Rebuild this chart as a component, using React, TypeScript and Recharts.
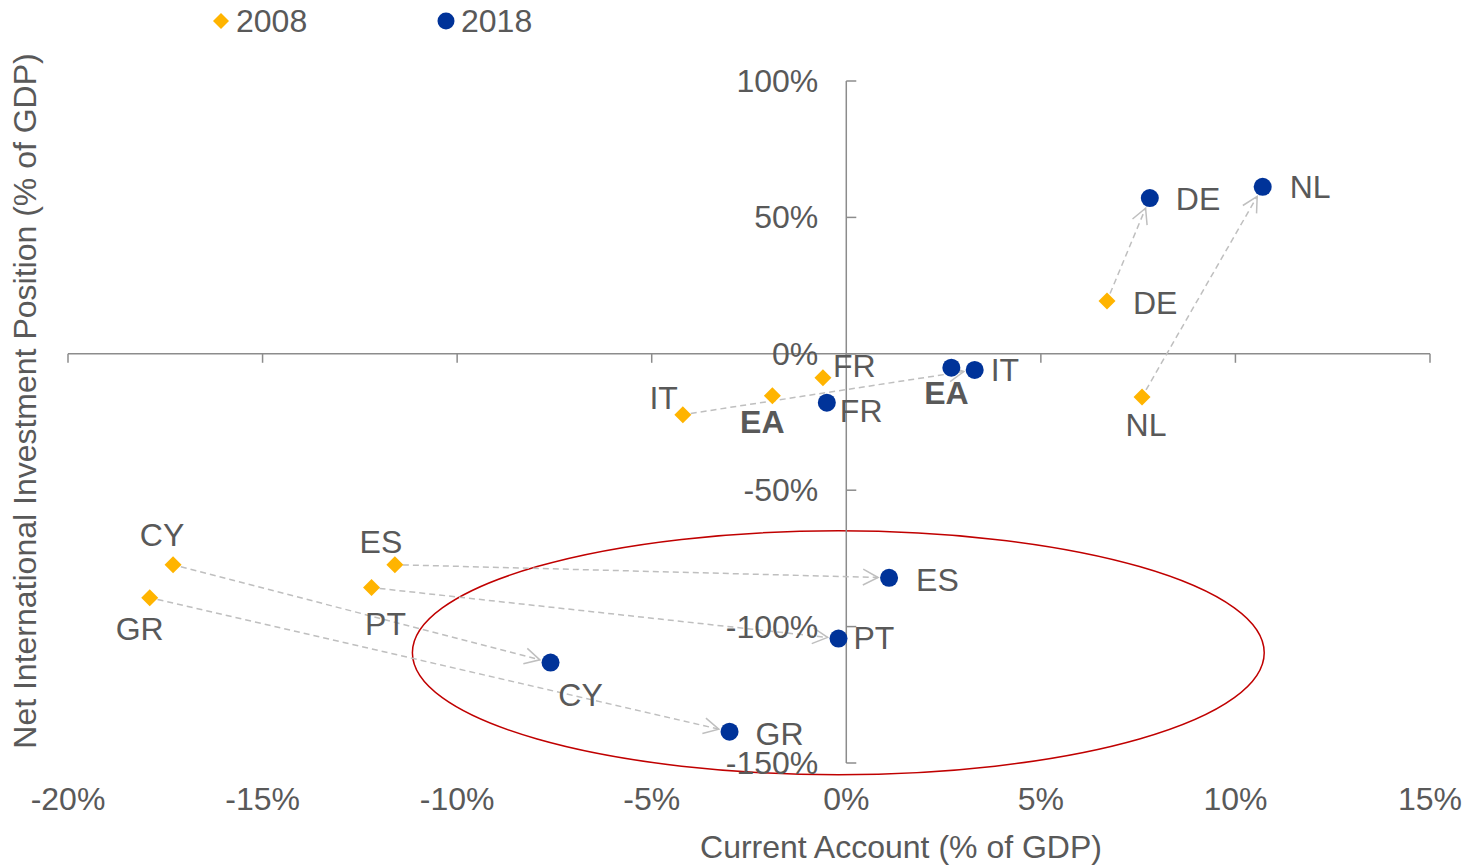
import React from 'react';
import {
  ScatterChart,
  Scatter,
  XAxis,
  YAxis,
  ReferenceLine,
  ReferenceDot,
  ReferenceArea,
  Legend,
} from 'recharts';

// values
const countries = ['DE', 'NL', 'FR', 'EA', 'IT', 'ES', 'PT', 'CY', 'GR'];
const currentAccount2008 = [6.7, 7.6, -0.6, -1.9, -4.2, -11.6, -12.2, -17.3, -17.9];
const niip2008 = [19.4, -15.8, -8.8, -15.4, -22.3, -77.3, -85.7, -77.3, -89.4];
const currentAccount2018 = [7.8, 10.7, -0.5, 2.7, 3.3, 1.1, -0.2, -7.6, -3.0];
const niip2018 = [57.1, 61.2, -17.9, -5.1, -5.9, -82.1, -104.4, -113.2, -138.5];
const arrowCountries = ['DE', 'NL', 'IT', 'ES', 'PT', 'CY', 'GR'];
const xTicks = [-20, -15, -10, -5, 0, 5, 10, 15];
const yTicks = [100, 50, 0, -50, -100, -150];
// the highlighted area (ellipse bounds in data units)
const highlightX = [-11.15, 10.74];
const highlightY = [-154.3, -64.9];

const ORANGE = '#FFB400';
const BLUE = '#003399';
const TEXT = '#595959';
const AXIS = '#8C8C8C';
const FONT = '"Liberation Sans", Arial, sans-serif';
const FS = 32;

type LabelPos = { dx: number; dy: number; anchor: 'start' | 'middle' | 'end' };

const labels2008: Record<string, LabelPos> = {
  DE: { dx: 26, dy: 2, anchor: 'start' },
  NL: { dx: 4, dy: 28, anchor: 'middle' },
  FR: { dx: 10, dy: -12, anchor: 'start' },
  EA: { dx: -10, dy: 26, anchor: 'middle' },
  IT: { dx: -5, dy: -17, anchor: 'end' },
  ES: { dx: -14, dy: -23, anchor: 'middle' },
  PT: { dx: 14, dy: 36, anchor: 'middle' },
  CY: { dx: -11, dy: -30, anchor: 'middle' },
  GR: { dx: -10, dy: 31, anchor: 'middle' },
};

const labels2018: Record<string, LabelPos> = {
  DE: { dx: 26, dy: 1, anchor: 'start' },
  NL: { dx: 27, dy: 0, anchor: 'start' },
  FR: { dx: 13, dy: 8, anchor: 'start' },
  EA: { dx: -5, dy: 25, anchor: 'middle' },
  IT: { dx: 16, dy: 0, anchor: 'start' },
  ES: { dx: 27, dy: 2, anchor: 'start' },
  PT: { dx: 15, dy: -1, anchor: 'start' },
  CY: { dx: 30, dy: 32, anchor: 'middle' },
  GR: { dx: 26, dy: 2, anchor: 'start' },
};

const data2008 = countries.map((name, i) => ({ name, x: currentAccount2008[i], y: niip2008[i] }));
const data2018 = countries.map((name, i) => ({ name, x: currentAccount2018[i], y: niip2018[i] }));

const PointLabel = ({ x, y, name, pos }: { x: number; y: number; name: string; pos: LabelPos }) => (
  <text
    x={x + pos.dx}
    y={y + pos.dy}
    textAnchor={pos.anchor}
    dominantBaseline="central"
    fill={TEXT}
    fontSize={FS}
    fontFamily={FONT}
    fontWeight={name === 'EA' ? 'bold' : 'normal'}
  >
    {name}
  </text>
);

const Diamond = (props: any) => {
  const { cx, cy, payload } = props;
  const s = 8.5;
  return (
    <g>
      <polygon
        points={`${cx},${cy - s} ${cx + s},${cy} ${cx},${cy + s} ${cx - s},${cy}`}
        fill={ORANGE}
      />
      <PointLabel x={cx} y={cy} name={payload.name} pos={labels2008[payload.name]} />
    </g>
  );
};

const Dot = (props: any) => {
  const { cx, cy, payload } = props;
  return (
    <g>
      <circle cx={cx} cy={cy} r={9} fill={BLUE} />
      <PointLabel x={cx} y={cy} name={payload.name} pos={labels2018[payload.name]} />
    </g>
  );
};

const Arrow = (props: any) => {
  const { x1, y1, x2, y2 } = props;
  const dx = x2 - x1;
  const dy = y2 - y1;
  const len = Math.hypot(dx, dy) || 1;
  const ux = dx / len;
  const uy = dy / len;
  const sx = x1 + ux * 8;
  const sy = y1 + uy * 8;
  const ex = x2 - ux * 11;
  const ey = y2 - uy * 11;
  const a = Math.atan2(dy, dx);
  const head = 17;
  const ang = Math.PI / 6.5;
  const p1 = [ex - head * Math.cos(a - ang), ey - head * Math.sin(a - ang)];
  const p2 = [ex - head * Math.cos(a + ang), ey - head * Math.sin(a + ang)];
  return (
    <g stroke="#BFBFBF" strokeWidth={1.5} fill="none">
      <line x1={sx} y1={sy} x2={ex} y2={ey} strokeDasharray="6 4" />
      <polyline points={`${p1[0]},${p1[1]} ${ex},${ey} ${p2[0]},${p2[1]}`} />
    </g>
  );
};

const Ellipse = (props: any) => {
  const { x, y, width, height } = props;
  return (
    <ellipse
      cx={x + width / 2}
      cy={y + height / 2}
      rx={Math.abs(width) / 2}
      ry={Math.abs(height) / 2}
      fill="none"
      stroke="#C00000"
      strokeWidth={1.5}
    />
  );
};

const XTick = (props: any) => {
  const { x, y, payload } = props;
  return (
    <text
      x={x}
      y={y + 34}
      textAnchor="middle"
      dominantBaseline="central"
      fill={TEXT}
      fontSize={FS}
      fontFamily={FONT}
    >
      {`${payload.value}%`}
    </text>
  );
};

const XTickMark = (props: any) => {
  const { cx, cy } = props;
  return <line x1={cx} y1={cy} x2={cx} y2={cy + 9} stroke={AXIS} strokeWidth={1.5} />;
};

const YTickMark = (value: number) => (props: any) => {
  const { cx, cy } = props;
  return (
    <g>
      <line x1={cx} y1={cy} x2={cx + 10} y2={cy} stroke={AXIS} strokeWidth={1.5} />
      <text
        x={cx - 28}
        y={cy}
        textAnchor="end"
        dominantBaseline="central"
        fill={TEXT}
        fontSize={FS}
        fontFamily={FONT}
      >
        {`${value}%`}
      </text>
    </g>
  );
};

const LegendContent = () => (
  <svg width={1470} height={44}>
    <polygon points="221,13 229,21 221,29 213,21" fill={ORANGE} />
    <text x={236} y={21} dominantBaseline="central" fill={TEXT} fontSize={FS} fontFamily={FONT}>
      2008
    </text>
    <circle cx={446} cy={21} r={8.5} fill={BLUE} />
    <text x={461} y={21} dominantBaseline="central" fill={TEXT} fontSize={FS} fontFamily={FONT}>
      2018
    </text>
  </svg>
);

const App = () => {
  return (
    <div
      style={{
        position: 'relative',
        width: 1470,
        height: 865,
        margin: '-8px 0 0 -8px',
        background: '#fff',
        fontFamily: FONT,
      }}
    >
      <ScatterChart
        width={1470}
        height={865}
        margin={{ top: 81, right: 40, left: 68, bottom: 42 }}
      >
        <XAxis
          type="number"
          dataKey="x"
          domain={[-20, 15]}
          ticks={xTicks}
          interval={0}
          axisLine={false}
          tickLine={false}
          tickSize={0}
          height={60}
          tick={XTick}
        />
        <YAxis type="number" dataKey="y" domain={[-150, 100]} ticks={yTicks} hide />
        <Legend
          layout="vertical"
          align="center"
          verticalAlign="middle"
          wrapperStyle={{ top: 0, left: 0, width: 1470, height: 44 }}
          content={LegendContent}
        />

        <ReferenceLine y={0} stroke={AXIS} strokeWidth={1.5} />
        <ReferenceLine x={0} stroke={AXIS} strokeWidth={1.5} />
        {xTicks.map((t) => (
          <ReferenceDot key={`xt${t}`} x={t} y={0} r={1} ifOverflow="visible" shape={XTickMark} />
        ))}
        {yTicks.map((t) => (
          <ReferenceDot key={`yt${t}`} x={0} y={t} r={1} ifOverflow="visible" shape={YTickMark(t)} />
        ))}

        {arrowCountries.map((c) => {
          const i = countries.indexOf(c);
          return (
            <ReferenceLine
              key={`arrow${c}`}
              segment={[
                { x: currentAccount2008[i], y: niip2008[i] },
                { x: currentAccount2018[i], y: niip2018[i] },
              ]}
              ifOverflow="visible"
              shape={Arrow}
            />
          );
        })}

        <ReferenceArea
          x1={highlightX[0]}
          x2={highlightX[1]}
          y1={highlightY[0]}
          y2={highlightY[1]}
          ifOverflow="visible"
          shape={Ellipse}
        />

        <Scatter name="2008" data={data2008} shape={Diamond} isAnimationActive={false} />
        <Scatter name="2018" data={data2018} shape={Dot} isAnimationActive={false} />
      </ScatterChart>

      <div
        style={{
          position: 'absolute',
          left: 25,
          top: 401,
          transform: 'translate(-50%, -50%) rotate(-90deg)',
          whiteSpace: 'nowrap',
          fontSize: FS,
          color: TEXT,
        }}
      >
        Net International Investment Position (% of GDP)
      </div>
      <div
        style={{
          position: 'absolute',
          left: 901,
          top: 847,
          transform: 'translate(-50%, -50%)',
          whiteSpace: 'nowrap',
          fontSize: FS,
          color: TEXT,
        }}
      >
        Current Account (% of GDP)
      </div>
    </div>
  );
};

export default App;
